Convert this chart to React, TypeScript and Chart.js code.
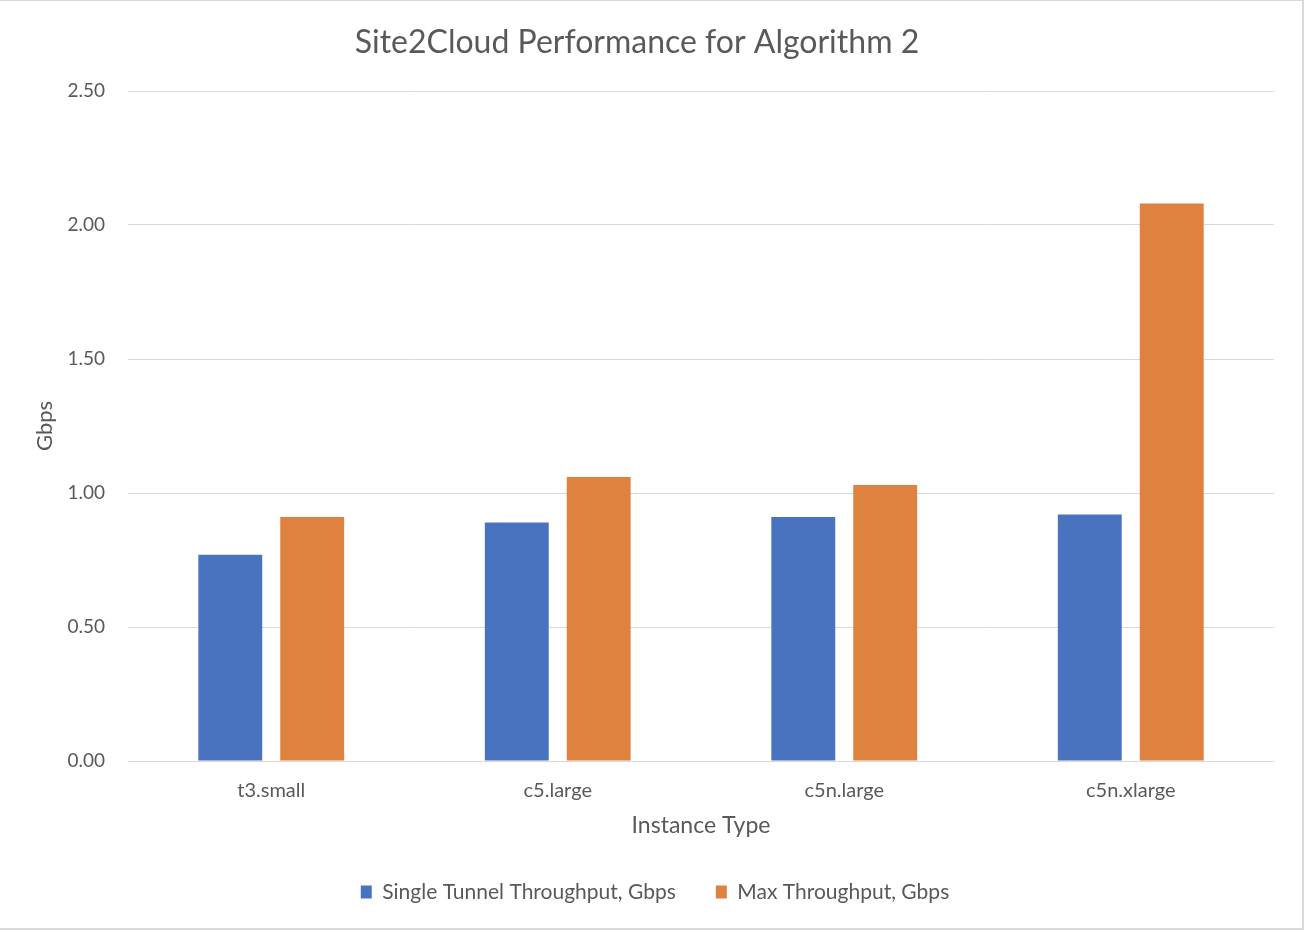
import React, { useEffect, useRef } from "react";
import { Chart, registerables } from "chart.js";

Chart.register(...registerables);

const categories = ["t3.small", "c5.large", "c5n.large", "c5n.xlarge"];
const singleTunnel = [0.77, 0.89, 0.91, 0.92];
const maxThroughput = [0.91, 1.06, 1.03, 2.08];
const seriesLabels = ["Single Tunnel Throughput, Gbps", "Max Throughput, Gbps"];
const chartTitle = "Site2Cloud Performance for Algorithm 2";
const yTitle = "Gbps";
const xTitle = "Instance Type";

const FONT = "Lato, 'Open Sans', sans-serif";
const TEXT = "#595959";
const GRID = "#d9d9d9";

const framePlugin = {
  id: "frame",
  afterLayout(chart: any) {
    const l = chart.legend;
    if (l) {
      l.left += 18;
      l.right += 18;
    }
  },
  afterDraw(chart: any) {
    const ctx = chart.ctx;
    ctx.save();
    ctx.fillStyle = "#d9d9d9";
    ctx.fillRect(0, 0, 1304, 1);
    ctx.fillRect(1302, 0, 2, 930);
    ctx.fillRect(0, 928, 1304, 2);
    ctx.restore();
  },
};

export default function App() {
  const ref = useRef<HTMLCanvasElement>(null);
  useEffect(() => {
    if (!ref.current) return;
    const chart = new Chart(ref.current, {
      type: "bar",
      data: {
        labels: categories,
        datasets: [
          {
            label: seriesLabels[0],
            data: singleTunnel,
            backgroundColor: "#4A73BF",
            categoryPercentage: 0.572,
            barPercentage: 0.78,
          },
          {
            label: seriesLabels[1],
            data: maxThroughput,
            backgroundColor: "#E0823F",
            categoryPercentage: 0.572,
            barPercentage: 0.78,
          },
        ],
      },
      plugins: [framePlugin],
      options: {
        responsive: false,
        animation: false,
        layout: { padding: { top: 0, right: 30, left: 0, bottom: 17.5 } },
        plugins: {
          title: {
            display: true,
            text: chartTitle,
            color: TEXT,
            font: { family: FONT, size: 32, weight: "normal" },
            padding: { top: 23, bottom: 29.6 },
          },
          legend: {
            position: "bottom",
            labels: {
              color: TEXT,
              font: { family: FONT, size: 21 },
              boxWidth: 11,
              boxHeight: 13,
              padding: 40,
            },
          },
          tooltip: { enabled: false },
        },
        scales: {
          x: {
            grid: { display: false, drawTicks: false },
            border: { display: false },
            ticks: { color: TEXT, font: { family: FONT, size: 20 }, padding: 18 },
            title: {
              display: true,
              text: xTitle,
              color: TEXT,
              font: { family: FONT, size: 23 },
              padding: { top: 0, bottom: 2 },
            },
            afterFit(scale: any) {
              scale.height = 80.5;
            },
          },
          y: {
            min: 0,
            max: 2.5,
            ticks: {
              stepSize: 0.5,
              color: TEXT,
              font: { family: FONT, size: 19 },
              padding: 23,
              callback: (v: any) => Number(v).toFixed(2),
            },
            grid: { color: GRID, lineWidth: 1, drawTicks: false },
            border: { display: false },
            title: {
              display: true,
              text: yTitle,
              color: TEXT,
              font: { family: FONT, size: 22 },
              padding: { top: 32, bottom: 0 },
            },
            afterFit(scale: any) {
              scale.width = 128;
            },
          },
        },
      },
    });
    return () => chart.destroy();
  }, []);
  return (
    <div style={{ position: "fixed", left: 0, top: 0, width: 1304, height: 930, background: "#fff" }}>
      <canvas ref={ref} width={1304} height={930} />
    </div>
  );
}
